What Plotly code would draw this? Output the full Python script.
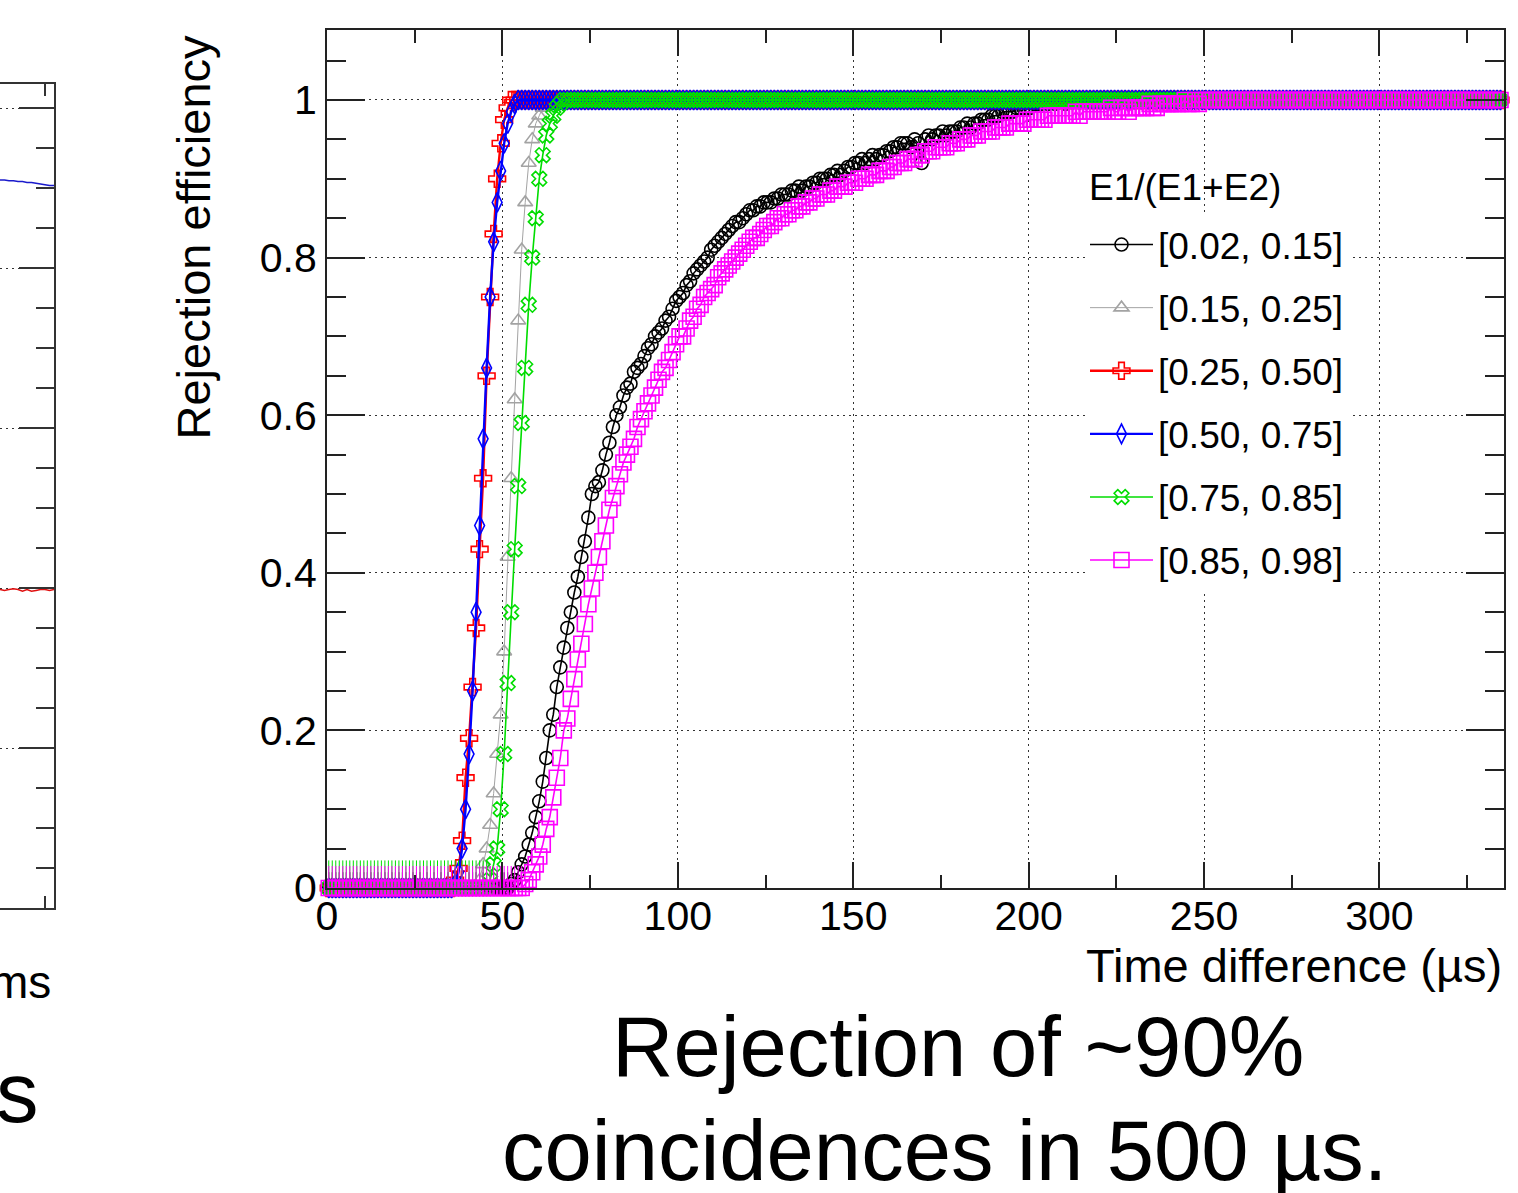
import plotly.graph_objects as go

W, H = 1518, 1193
FONT = "Liberation Sans, Arial, Helvetica, sans-serif"

# ---- main panel: rejection efficiency per 1 us bin (bin centres 0.5 ... 334.5) ----
bin_width_us = 1.0
n_bins = 335
time_us = [(i + 0.5) * bin_width_us for i in range(n_bins)]

eff_002_015 = [
    0, 0, 0, 0, 0, 0, 0, 0, 0, 0, 0, 0, 0, 0, 0, 0, 0, 0, 0, 0,
    0, 0, 0, 0, 0, 0, 0, 0, 0, 0, 0, 0, 0, 0, 0, 0, 0, 0, 0, 0,
    0, 0, 0, 0, 0, 0, 0, 0, 0, 0, 0, 0, 0.005, 0.01, 0.02, 0.03, 0.04, 0.055, 0.07, 0.09,
    0.11, 0.135, 0.165, 0.20, 0.22, 0.255, 0.28, 0.305, 0.33, 0.35, 0.375, 0.395, 0.42, 0.44, 0.47, 0.50, 0.51, 0.515, 0.53, 0.55,
    0.565, 0.585, 0.60, 0.61, 0.625, 0.635, 0.64, 0.655, 0.66, 0.665, 0.675, 0.685, 0.69, 0.70, 0.705, 0.71, 0.72, 0.725, 0.735, 0.745,
    0.75, 0.755, 0.765, 0.77, 0.78, 0.785, 0.79, 0.795, 0.80, 0.81, 0.815, 0.82, 0.825, 0.83, 0.835, 0.84, 0.845, 0.845, 0.85, 0.855,
    0.86, 0.86, 0.865, 0.865, 0.87, 0.87, 0.87, 0.875, 0.875, 0.88, 0.88, 0.88, 0.885, 0.885, 0.89, 0.885, 0.89, 0.89, 0.895, 0.895,
    0.90, 0.90, 0.90, 0.905, 0.905, 0.91, 0.905, 0.91, 0.915, 0.915, 0.92, 0.92, 0.925, 0.92, 0.925, 0.93, 0.925, 0.93, 0.93, 0.935,
    0.935, 0.94, 0.94, 0.945, 0.945, 0.945, 0.94, 0.95, 0.945, 0.92, 0.95, 0.955, 0.95, 0.955, 0.955, 0.96, 0.955, 0.96, 0.96, 0.96,
    0.965, 0.965, 0.97, 0.965, 0.97, 0.97, 0.975, 0.975, 0.975, 0.98, 0.98, 0.98, 0.985, 0.985, 0.985, 0.985, 0.99, 0.99, 0.99, 0.99,
    0.99, 0.995, 0.995, 0.995, 1, 0.995, 1, 0.995, 1, 1, 0.995, 1, 1, 1, 1, 1, 1, 1, 1, 1,
    1, 1, 1, 1, 1, 1, 1, 1, 1, 1, 1, 1, 1, 1, 1, 1, 1, 1, 1, 1,
    1, 1, 1, 1, 1, 1, 1, 1, 1, 1, 1, 1, 1, 1, 1, 1, 1, 1, 1, 1,
    1, 1, 1, 1, 1, 1, 1, 1, 1, 1, 1, 1, 1, 1, 1, 1, 1, 1, 1, 1,
    1, 1, 1, 1, 1, 1, 1, 1, 1, 1, 1, 1, 1, 1, 1, 1, 1, 1, 1, 1,
    1, 1, 1, 1, 1, 1, 1, 1, 1, 1, 1, 1, 1, 1, 1, 1, 1, 1, 1, 1,
    1, 1, 1, 1, 1, 1, 1, 1, 1, 1, 1, 1, 1, 1, 1,
]

eff_015_025 = [
    0, 0, 0, 0, 0, 0, 0, 0, 0, 0, 0, 0, 0, 0, 0, 0, 0, 0, 0, 0,
    0, 0, 0, 0, 0, 0, 0, 0, 0, 0, 0, 0, 0, 0, 0, 0, 0, 0, 0, 0,
    0, 0, 0, 0.01, 0.03, 0.05, 0.08, 0.12, 0.17, 0.22, 0.30, 0.42, 0.52, 0.62, 0.72, 0.81, 0.87, 0.92, 0.95, 0.97,
    0.98, 0.99, 0.995, 1, 1, 1, 1, 1, 1, 1, 1, 1, 1, 1, 1, 1, 1, 1, 1, 1,
    1, 1, 1, 1, 1, 1, 1, 1, 1, 1, 1, 1, 1, 1, 1, 1, 1, 1, 1, 1,
    1, 1, 1, 1, 1, 1, 1, 1, 1, 1, 1, 1, 1, 1, 1, 1, 1, 1, 1, 1,
    1, 1, 1, 1, 1, 1, 1, 1, 1, 1, 1, 1, 1, 1, 1, 1, 1, 1, 1, 1,
    1, 1, 1, 1, 1, 1, 1, 1, 1, 1, 1, 1, 1, 1, 1, 1, 1, 1, 1, 1,
    1, 1, 1, 1, 1, 1, 1, 1, 1, 1, 1, 1, 1, 1, 1, 1, 1, 1, 1, 1,
    1, 1, 1, 1, 1, 1, 1, 1, 1, 1, 1, 1, 1, 1, 1, 1, 1, 1, 1, 1,
    1, 1, 1, 1, 1, 1, 1, 1, 1, 1, 1, 1, 1, 1, 1, 1, 1, 1, 1, 1,
    1, 1, 1, 1, 1, 1, 1, 1, 1, 1, 1, 1, 1, 1, 1, 1, 1, 1, 1, 1,
    1, 1, 1, 1, 1, 1, 1, 1, 1, 1, 1, 1, 1, 1, 1, 1, 1, 1, 1, 1,
    1, 1, 1, 1, 1, 1, 1, 1, 1, 1, 1, 1, 1, 1, 1, 1, 1, 1, 1, 1,
    1, 1, 1, 1, 1, 1, 1, 1, 1, 1, 1, 1, 1, 1, 1, 1, 1, 1, 1, 1,
    1, 1, 1, 1, 1, 1, 1, 1, 1, 1, 1, 1, 1, 1, 1, 1, 1, 1, 1, 1,
    1, 1, 1, 1, 1, 1, 1, 1, 1, 1, 1, 1, 1, 1, 1,
]

eff_025_050 = [
    0, 0, 0, 0, 0, 0, 0, 0, 0, 0, 0, 0, 0, 0, 0, 0, 0, 0, 0, 0,
    0, 0, 0, 0, 0, 0, 0, 0, 0, 0, 0, 0, 0, 0, 0, 0, 0.01, 0.025, 0.06, 0.14,
    0.19, 0.255, 0.33, 0.43, 0.52, 0.65, 0.75, 0.83, 0.90, 0.945, 0.975, 0.99, 1, 1, 1, 1, 1, 1, 1, 1,
    1, 1, 1, 1, 1, 1, 1, 1, 1, 1, 1, 1, 1, 1, 1, 1, 1, 1, 1, 1,
    1, 1, 1, 1, 1, 1, 1, 1, 1, 1, 1, 1, 1, 1, 1, 1, 1, 1, 1, 1,
    1, 1, 1, 1, 1, 1, 1, 1, 1, 1, 1, 1, 1, 1, 1, 1, 1, 1, 1, 1,
    1, 1, 1, 1, 1, 1, 1, 1, 1, 1, 1, 1, 1, 1, 1, 1, 1, 1, 1, 1,
    1, 1, 1, 1, 1, 1, 1, 1, 1, 1, 1, 1, 1, 1, 1, 1, 1, 1, 1, 1,
    1, 1, 1, 1, 1, 1, 1, 1, 1, 1, 1, 1, 1, 1, 1, 1, 1, 1, 1, 1,
    1, 1, 1, 1, 1, 1, 1, 1, 1, 1, 1, 1, 1, 1, 1, 1, 1, 1, 1, 1,
    1, 1, 1, 1, 1, 1, 1, 1, 1, 1, 1, 1, 1, 1, 1, 1, 1, 1, 1, 1,
    1, 1, 1, 1, 1, 1, 1, 1, 1, 1, 1, 1, 1, 1, 1, 1, 1, 1, 1, 1,
    1, 1, 1, 1, 1, 1, 1, 1, 1, 1, 1, 1, 1, 1, 1, 1, 1, 1, 1, 1,
    1, 1, 1, 1, 1, 1, 1, 1, 1, 1, 1, 1, 1, 1, 1, 1, 1, 1, 1, 1,
    1, 1, 1, 1, 1, 1, 1, 1, 1, 1, 1, 1, 1, 1, 1, 1, 1, 1, 1, 1,
    1, 1, 1, 1, 1, 1, 1, 1, 1, 1, 1, 1, 1, 1, 1, 1, 1, 1, 1, 1,
    1, 1, 1, 1, 1, 1, 1, 1, 1, 1, 1, 1, 1, 1, 1,
]

eff_050_075 = [
    0, 0, 0, 0, 0, 0, 0, 0, 0, 0, 0, 0, 0, 0, 0, 0, 0, 0, 0, 0,
    0, 0, 0, 0, 0, 0, 0, 0, 0, 0, 0, 0, 0, 0, 0, 0, 0.005, 0.02, 0.05, 0.10,
    0.17, 0.25, 0.35, 0.46, 0.57, 0.66, 0.75, 0.82, 0.87, 0.91, 0.945, 0.97, 0.985, 0.995, 1, 1, 1, 1, 1, 1,
    1, 1, 1, 1, 1, 1, 1, 1, 1, 1, 1, 1, 1, 1, 1, 1, 1, 1, 1, 1,
    1, 1, 1, 1, 1, 1, 1, 1, 1, 1, 1, 1, 1, 1, 1, 1, 1, 1, 1, 1,
    1, 1, 1, 1, 1, 1, 1, 1, 1, 1, 1, 1, 1, 1, 1, 1, 1, 1, 1, 1,
    1, 1, 1, 1, 1, 1, 1, 1, 1, 1, 1, 1, 1, 1, 1, 1, 1, 1, 1, 1,
    1, 1, 1, 1, 1, 1, 1, 1, 1, 1, 1, 1, 1, 1, 1, 1, 1, 1, 1, 1,
    1, 1, 1, 1, 1, 1, 1, 1, 1, 1, 1, 1, 1, 1, 1, 1, 1, 1, 1, 1,
    1, 1, 1, 1, 1, 1, 1, 1, 1, 1, 1, 1, 1, 1, 1, 1, 1, 1, 1, 1,
    1, 1, 1, 1, 1, 1, 1, 1, 1, 1, 1, 1, 1, 1, 1, 1, 1, 1, 1, 1,
    1, 1, 1, 1, 1, 1, 1, 1, 1, 1, 1, 1, 1, 1, 1, 1, 1, 1, 1, 1,
    1, 1, 1, 1, 1, 1, 1, 1, 1, 1, 1, 1, 1, 1, 1, 1, 1, 1, 1, 1,
    1, 1, 1, 1, 1, 1, 1, 1, 1, 1, 1, 1, 1, 1, 1, 1, 1, 1, 1, 1,
    1, 1, 1, 1, 1, 1, 1, 1, 1, 1, 1, 1, 1, 1, 1, 1, 1, 1, 1, 1,
    1, 1, 1, 1, 1, 1, 1, 1, 1, 1, 1, 1, 1, 1, 1, 1, 1, 1, 1, 1,
    1, 1, 1, 1, 1, 1, 1, 1, 1, 1, 1, 1, 1, 1, 1,
]

eff_075_085 = [
    0, 0, 0, 0, 0, 0, 0, 0, 0, 0, 0, 0, 0, 0, 0, 0, 0, 0, 0, 0,
    0, 0, 0, 0, 0, 0, 0, 0, 0, 0, 0, 0, 0, 0, 0, 0, 0, 0, 0, 0,
    0, 0, 0, 0, 0, 0, 0.01, 0.03, 0.05, 0.10, 0.17, 0.26, 0.35, 0.43, 0.51, 0.59, 0.66, 0.74, 0.80, 0.85,
    0.90, 0.93, 0.955, 0.97, 0.98, 0.99, 0.995, 1, 1, 1, 1, 1, 1, 1, 1, 1, 1, 1, 1, 1,
    1, 1, 1, 1, 1, 1, 1, 1, 1, 1, 1, 1, 1, 1, 1, 1, 1, 1, 1, 1,
    1, 1, 1, 1, 1, 1, 1, 1, 1, 1, 1, 1, 1, 1, 1, 1, 1, 1, 1, 1,
    1, 1, 1, 1, 1, 1, 1, 1, 1, 1, 1, 1, 1, 1, 1, 1, 1, 1, 1, 1,
    1, 1, 1, 1, 1, 1, 1, 1, 1, 1, 1, 1, 1, 1, 1, 1, 1, 1, 1, 1,
    1, 1, 1, 1, 1, 1, 1, 1, 1, 1, 1, 1, 1, 1, 1, 1, 1, 1, 1, 1,
    1, 1, 1, 1, 1, 1, 1, 1, 1, 1, 1, 1, 1, 1, 1, 1, 1, 1, 1, 1,
    1, 1, 1, 1, 1, 1, 1, 1, 1, 1, 1, 1, 1, 1, 1, 1, 1, 1, 1, 1,
    1, 1, 1, 1, 1, 1, 1, 1, 1, 1, 1, 1, 1, 1, 1, 1, 1, 1, 1, 1,
    1, 1, 1, 1, 1, 1, 1, 1, 1, 1, 1, 1, 1, 1, 1, 1, 1, 1, 1, 1,
    1, 1, 1, 1, 1, 1, 1, 1, 1, 1, 1, 1, 1, 1, 1, 1, 1, 1, 1, 1,
    1, 1, 1, 1, 1, 1, 1, 1, 1, 1, 1, 1, 1, 1, 1, 1, 1, 1, 1, 1,
    1, 1, 1, 1, 1, 1, 1, 1, 1, 1, 1, 1, 1, 1, 1, 1, 1, 1, 1, 1,
    1, 1, 1, 1, 1, 1, 1, 1, 1, 1, 1, 1, 1, 1, 1,
]

eff_085_098 = [
    0, 0, 0, 0, 0, 0, 0, 0, 0, 0, 0, 0, 0, 0, 0, 0, 0, 0, 0, 0,
    0, 0, 0, 0, 0, 0, 0, 0, 0, 0, 0, 0, 0, 0, 0, 0, 0, 0, 0, 0,
    0, 0, 0, 0, 0, 0, 0, 0, 0, 0, 0, 0, 0, 0, 0, 0, 0.005, 0.01, 0.02, 0.03,
    0.04, 0.055, 0.075, 0.09, 0.115, 0.14, 0.165, 0.20, 0.215, 0.24, 0.265, 0.29, 0.31, 0.335, 0.36, 0.38, 0.40, 0.42, 0.44, 0.46,
    0.48, 0.495, 0.51, 0.525, 0.54, 0.55, 0.56, 0.57, 0.585, 0.595, 0.605, 0.615, 0.625, 0.635, 0.645, 0.655, 0.66, 0.67, 0.68, 0.69,
    0.70, 0.70, 0.71, 0.72, 0.725, 0.735, 0.74, 0.75, 0.755, 0.76, 0.765, 0.775, 0.78, 0.785, 0.79, 0.795, 0.80, 0.805, 0.81, 0.815,
    0.82, 0.825, 0.825, 0.83, 0.835, 0.84, 0.84, 0.845, 0.85, 0.85, 0.855, 0.855, 0.86, 0.86, 0.865, 0.865, 0.87, 0.87, 0.875, 0.875,
    0.88, 0.88, 0.88, 0.885, 0.885, 0.89, 0.89, 0.89, 0.895, 0.895, 0.895, 0.90, 0.90, 0.90, 0.905, 0.905, 0.905, 0.91, 0.91, 0.91,
    0.915, 0.915, 0.92, 0.92, 0.92, 0.925, 0.925, 0.925, 0.93, 0.93, 0.935, 0.935, 0.935, 0.94, 0.94, 0.94, 0.94, 0.945, 0.945, 0.945,
    0.95, 0.95, 0.95, 0.955, 0.955, 0.955, 0.96, 0.96, 0.96, 0.96, 0.965, 0.965, 0.965, 0.965, 0.97, 0.97, 0.97, 0.97, 0.97, 0.975,
    0.975, 0.975, 0.975, 0.975, 0.975, 0.98, 0.98, 0.98, 0.98, 0.98, 0.98, 0.98, 0.98, 0.985, 0.98, 0.985, 0.985, 0.985, 0.985, 0.985,
    0.985, 0.985, 0.985, 0.99, 0.985, 0.985, 0.99, 0.99, 0.985, 0.99, 0.99, 0.99, 0.99, 0.99, 0.995, 0.99, 0.99, 0.995, 0.995, 0.995,
    0.995, 0.995, 0.995, 0.995, 1, 0.995, 0.995, 1, 0.995, 1, 1, 1, 1, 1, 1, 1, 1, 1, 1, 1,
    1, 1, 1, 1, 1, 1, 1, 1, 1, 1, 1, 1, 1, 1, 1, 1, 1, 1, 1, 1,
    1, 1, 1, 1, 1, 1, 1, 1, 1, 1, 1, 1, 1, 1, 1, 1, 1, 1, 1, 1,
    1, 1, 1, 1, 1, 1, 1, 1, 1, 1, 1, 1, 1, 1, 1, 1, 1, 1, 1, 1,
    1, 1, 1, 1, 1, 1, 1, 1, 1, 1, 1, 1, 1, 1, 1,
]

# legend labels (energy-sharing ranges) and upper uncertainty of empty bins
legend_title = "E1/(E1+E2)"
range_labels = ["[0.02, 0.15]", "[0.15, 0.25]", "[0.25, 0.50]",
                "[0.50, 0.75]", "[0.75, 0.85]", "[0.85, 0.98]"]
zero_bin_upper_err = [0.020, 0.020, 0.012, 0.012, 0.035, 0.028]
series_values = [eff_002_015, eff_015_025, eff_025_050,
                 eff_050_075, eff_075_085, eff_085_098]

# ---- left (neighbouring) panel: two flat curves ----
left_x = [0, 1, 2, 3, 4, 5, 6, 7, 8, 9, 10, 11, 12]
left_blue = [0.910, 0.910, 0.909, 0.909, 0.908, 0.908, 0.907, 0.907, 0.906, 0.905, 0.904, 0.903, 0.903]
left_red = [0.398, 0.397, 0.398, 0.399, 0.398, 0.396, 0.398, 0.396, 0.397, 0.398, 0.398, 0.397, 0.398]

for vals in series_values:
    assert len(vals) == n_bins

# ---- styling ----
styles = [
    dict(color="#000000", symbol="circle-open", size=13, lw=1.6),
    dict(color="#a3a3a3", symbol="triangle-up-open", size=13, lw=1.0),
    dict(color="#ff0000", symbol="cross-open", size=14, lw=2.4),
    dict(color="#0000ff", symbol="diamond-tall-open", size=14, lw=2.4),
    dict(color="#00dd00", symbol="x-open", size=13, lw=1.6),
    dict(color="#ff00ff", symbol="square-open", size=15, lw=1.6),
]


def fx(px):
    return px / W


def fy(py):
    return 1 - py / H


fig = go.Figure()

for label, vals, err0, st in zip(range_labels, series_values, zero_bin_upper_err, styles):
    fig.add_trace(go.Scatter(
        x=time_us, y=vals, mode="lines+markers", name=label,
        legendgroup=label,
        line=dict(color=st["color"], width=st["lw"]),
        marker=dict(symbol=st["symbol"], size=st["size"], color=st["color"],
                    line=dict(color=st["color"], width=1.6)),
        error_y=dict(type="data", symmetric=False,
                     array=[err0 if v == 0 else 0 for v in vals],
                     arrayminus=[0] * len(vals),
                     color=st["color"], thickness=1, width=0),
        cliponaxis=False,
        xaxis="x", yaxis="y",
    ))

fig.add_trace(go.Scatter(x=left_x, y=left_blue, mode="lines", showlegend=False,
                         line=dict(color="#1a1acc", width=1.5), xaxis="x2", yaxis="y2"))
fig.add_trace(go.Scatter(x=left_x, y=left_red, mode="lines", showlegend=False,
                         line=dict(color="#e01010", width=1.5), xaxis="x2", yaxis="y2"))

grid_dash = "2px,4px"
axis_common = dict(showline=True, linecolor="#222222", linewidth=2, mirror="ticks",
                   ticks="inside", tickcolor="#222222", tickwidth=2,
                   showgrid=True, gridcolor="#333333", gridwidth=1, griddash=grid_dash,
                   zeroline=False, automargin=False,
                   tickfont=dict(family=FONT, size=41, color="#000000"))

fig.update_layout(
    template="none",
    width=W, height=H,
    margin=dict(l=0, r=0, t=0, b=0, pad=0, autoexpand=False),
    paper_bgcolor="white", plot_bgcolor="white",
    font=dict(family=FONT, color="#000000"),
    showlegend=True,
    xaxis=dict(domain=[fx(327), fx(1504)], range=[0, 335.5], anchor="y",
               dtick=50, tick0=0, ticklen=26, ticklabelstandoff=-9,
               minor=dict(dtick=25, tick0=0, ticklen=13, ticks="inside",
                          tickcolor="#222222", tickwidth=2, showgrid=False),
               **axis_common),
    yaxis=dict(domain=[fy(888), fy(30)], range=[0, 1.0888], anchor="x",
               dtick=0.2, tick0=0, ticklen=38,
               minor=dict(dtick=0.05, tick0=0, ticklen=19, ticks="inside",
                          tickcolor="#222222", tickwidth=2, showgrid=False),
               **axis_common),
    xaxis2=dict(domain=[0, fx(54)], range=[0, 12], anchor="y2",
                showline=True, linecolor="#333333", linewidth=2, mirror="ticks",
                ticks="inside", tickvals=[10], ticklen=12, tickwidth=2, tickcolor="#333333",
                showticklabels=False, showgrid=False, zeroline=False, automargin=False),
    yaxis2=dict(domain=[fy(908), fy(84)], range=[0, 1.03], anchor="x2", side="right",
                showline=True, linecolor="#333333", linewidth=2,
                ticks="inside", dtick=0.2, tick0=0, ticklen=35, tickwidth=2, tickcolor="#333333",
                minor=dict(dtick=0.05, tick0=0, ticklen=18, ticks="inside",
                           tickcolor="#333333", tickwidth=2, showgrid=False),
                showticklabels=False, showgrid=True, gridcolor="#333333", gridwidth=1,
                griddash=grid_dash, zeroline=False, automargin=False),
    legend=dict(x=fx(1085), y=fy(214), xanchor="left", yanchor="top",
                bgcolor="white", borderwidth=0,
                font=dict(family=FONT, size=37, color="#000000"),
                tracegroupgap=12, itemwidth=63),
)

# blank (white) backing of the legend block: hides the grid, stays under the curves
fig.add_shape(type="rect", xref="paper", yref="paper", layer="between",
              x0=fx(1074), x1=fx(1410), y0=fy(598), y1=fy(158),
              fillcolor="white", line=dict(width=0))

annotations = [
    dict(text=legend_title, x=fx(1087), y=fy(187), xanchor="left", yanchor="middle",
         font=dict(family=FONT, size=37, color="#000000")),
    dict(text="Time difference (µs)", x=fx(1504), y=fy(965), xanchor="right", yanchor="middle",
         font=dict(family=FONT, size=47, color="#000000")),
    dict(text="Rejection efficiency", x=fx(193), y=fy(33), xanchor="center", yanchor="top",
         textangle=-90, font=dict(family=FONT, size=47, color="#000000")),
    dict(text="ms", x=fx(53), y=fy(982), xanchor="right", yanchor="middle",
         font=dict(family=FONT, size=46, color="#000000")),
    dict(text="s", x=fx(17), y=fy(1092), xanchor="center", yanchor="middle",
         font=dict(family=FONT, size=85, color="#000000")),
    dict(text="Rejection of ~90%", x=fx(958), y=fy(1046), xanchor="center", yanchor="middle",
         font=dict(family=FONT, size=85, color="#000000")),
    dict(text="coincidences in 500 µs.", x=fx(945), y=fy(1150), xanchor="center", yanchor="middle",
         font=dict(family=FONT, size=85, color="#000000")),
]
for a in annotations:
    fig.add_annotation(xref="paper", yref="paper", showarrow=False, **a)

fig.write_html("out.html")
